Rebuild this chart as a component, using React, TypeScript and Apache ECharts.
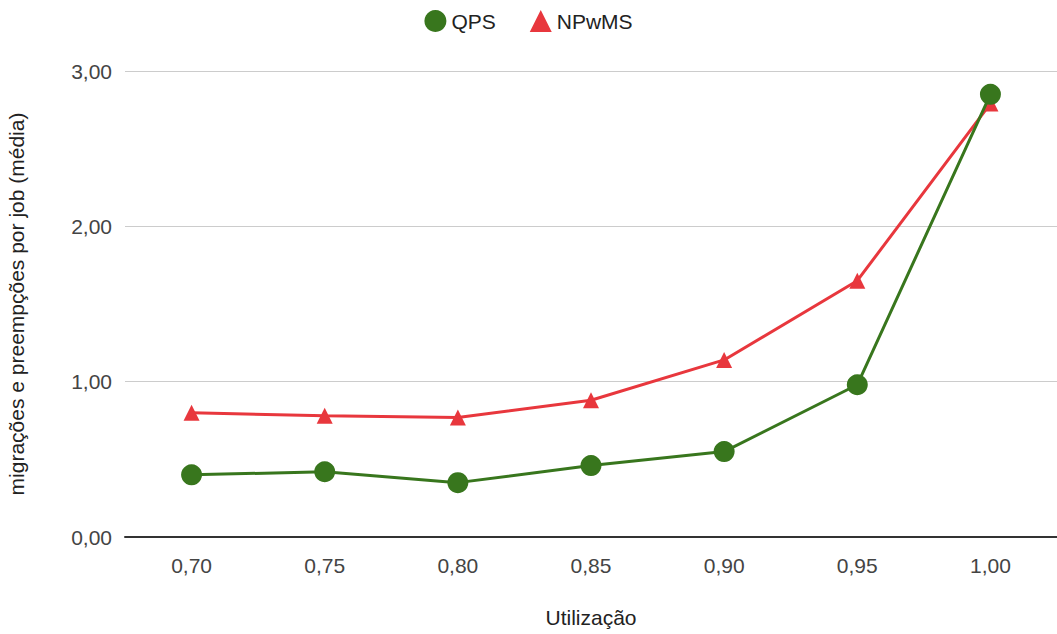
import React, { useEffect, useRef } from "react";
import * as echarts from "echarts";

const categories = ["0,70", "0,75", "0,80", "0,85", "0,90", "0,95", "1,00"];
const qps = [0.40, 0.42, 0.35, 0.46, 0.55, 0.98, 2.85];
const npwms = [0.80, 0.78, 0.77, 0.88, 1.14, 1.65, 2.79];
const yTicks = [0, 1, 2, 3];

const GREEN = "#38761d";
const RED = "#e8373d";
const FONT = "'Liberation Sans', Arial, sans-serif";
const FS = 21;

export default function App() {
  const ref = useRef<HTMLDivElement>(null);
  useEffect(() => {
    if (!ref.current) return;
    const chart = echarts.init(ref.current, undefined, { renderer: "svg" });
    chart.setOption({
      animation: false,
      textStyle: { fontFamily: FONT },
      legend: {
        top: 5,
        left: "center",
        itemGap: 34,
        itemWidth: 22,
        itemHeight: 22,
        textStyle: { fontSize: FS, color: "#222", fontFamily: FONT },
        data: [
          { name: "QPS", icon: "circle" },
          { name: "NPwMS", icon: "triangle", itemStyle: { color: RED } },
        ],
      },
      grid: { left: 125, right: 0, top: 71, bottom: 97, outerBoundsMode: "none", containLabel: false },
      xAxis: {
        type: "category",
        data: categories,
        boundaryGap: true,
        name: "Utilização",
        nameLocation: "middle",
        nameGap: 70,
        nameTextStyle: { fontSize: FS, color: "#222", fontFamily: FONT },
        axisLine: { lineStyle: { color: "#333", width: 2 } },
        axisTick: { show: false },
        axisLabel: { fontSize: FS, color: "#444", margin: 18, fontFamily: FONT },
      },
      yAxis: {
        type: "value",
        min: yTicks[0],
        max: yTicks[yTicks.length - 1],
        interval: 1,
        name: "migrações e preempções por job (média)",
        nameLocation: "middle",
        nameGap: 98,
        nameTextStyle: { fontSize: FS, color: "#222", fontFamily: FONT },
        axisLine: { show: false },
        axisTick: { show: false },
        axisLabel: {
          fontSize: FS,
          color: "#444",
          margin: 13,
          fontFamily: FONT,
          formatter: (v: number) => v.toFixed(2).replace(".", ","),
        },
        splitLine: { lineStyle: { color: "#cccccc", width: 1 } },
      },
      series: [
        {
          name: "QPS",
          type: "line",
          data: qps,
          symbol: "circle",
          symbolSize: 21,
          lineStyle: { color: GREEN, width: 3 },
          itemStyle: { color: GREEN },
          z: 3,
        },
        {
          name: "NPwMS",
          type: "line",
          data: npwms,
          symbol: "triangle",
          symbolSize: 16,
          lineStyle: { color: RED, width: 3 },
          itemStyle: { color: RED },
          z: 2,
        },
      ],
    });
    return () => chart.dispose();
  }, []);
  return <div ref={ref} style={{ width: 1057, height: 634, position: "absolute", left: 0, top: 0 }} />;
}
